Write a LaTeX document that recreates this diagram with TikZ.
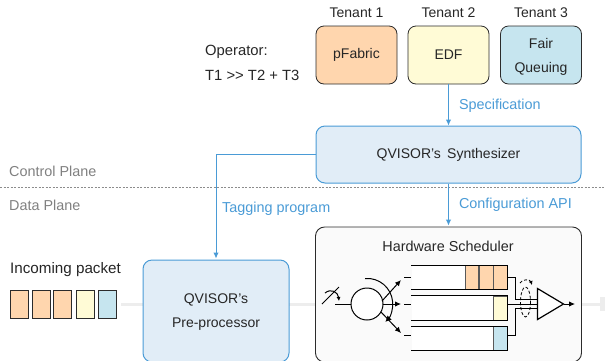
\documentclass[tikz,border=0pt]{standalone}
\usepackage{xcolor}
\usepackage{fontspec}
\setmainfont{Liberation Sans}
\usetikzlibrary{shapes,arrows,positioning,calc,arrows.meta}
\definecolor{linkblue}{HTML}{4A9BD6}
\definecolor{panelblue}{HTML}{E1EDF7}
\definecolor{softorange}{HTML}{FFD6AE}
\definecolor{softyellow}{HTML}{FFFBD6}
\definecolor{softblue}{HTML}{C6E5EF}
\definecolor{darkline}{HTML}{2B2B2B}
\tikzset{
    label text/.style={inner sep=0pt, text=black!85, font=\fontsize{14.4}{16}\selectfont},
    link text/.style={label text, text=linkblue},
    tenant box/.style={draw=darkline, line width=0.8pt, rounded corners=8pt, minimum width=81pt, minimum height=58pt, label text, font=\fontsize{14}{16}\selectfont, align=center},
    panel box/.style={draw=linkblue, fill=panelblue, line width=1pt, rounded corners=9pt, label text, font=\fontsize{14}{16}\selectfont, align=center},
    pkt cell/.style={draw=darkline, line width=0.7pt, minimum width=18pt, minimum height=28pt, inner sep=0pt},
    queue cell/.style={draw=black!65, line width=0.8pt, minimum height=24pt, inner sep=0pt},
    queue body/.style={fill=white, minimum width=96pt, minimum height=24pt, inner sep=0pt},
    link/.style={draw=linkblue, line width=1pt, -{Latex[length=6pt,width=5.5pt]}},
    sched/.style={draw=black, line width=1pt},
    sched arrow/.style={sched, -{Latex[length=6pt,width=5.5pt]}},
    traffic/.style={draw=black!7, line width=3pt}
}

\begin{document}
\begin{tikzpicture}[x=1pt,y=-1pt]
    \useasboundingbox (0,0) rectangle (605,360);
    \begin{scope}
    \clip (0,0) rectangle (605,360);

    % Traffic line behind the boxes
    \coordinate (trafficin) at (121,304);
    \coordinate (trafficout) at (605,304);
    \draw[traffic] (trafficin) -- (trafficout);
    \fill[black!7] (600,297) -- (605,297) -- (605,311) -- (600,311) -- cycle;

    % Tenants
    \node[tenant box, fill=softorange] (pfabric) at (356.5,55) {pFabric};
    \node[tenant box, fill=softyellow] (edf) at (448.5,55) {EDF};
    \node[tenant box, fill=softblue] (fair) at (541,55) {\rule{0pt}{14pt}Fair\\[8pt]Queuing};
    \node[label text, font=\fontsize{14}{16}\selectfont] (tenanta) at (356.5,13) {Tenant 1};
    \node[label text, font=\fontsize{14}{16}\selectfont] (tenantb) at (448.5,13) {Tenant 2};
    \node[label text, font=\fontsize{14}{16}\selectfont] (tenantc) at (541,13) {Tenant 3};
    \node[label text, font=\fontsize{14.8}{16}\selectfont, anchor=west] (operator) at (205,52) {Operator:};
    \node[label text, font=\fontsize{14.8}{16}\selectfont, anchor=west] (priority) at (205,75) {T1 {>}{>} T2 + T3};

    % Control plane
    \node[panel box, minimum width=265pt, minimum height=57pt] (synth) at (448.5,154.5) {QVISOR's\, Synthesizer};
    \draw[link] (edf) -- (synth) node[link text, midway, anchor=west, xshift=10pt, yshift=-1pt] (spec) {Specification};

    \coordinate (planeleft) at (0,187);
    \coordinate (planeright) at (605,187);
    \draw[black!45, line width=0.7pt, dash pattern=on 2pt off 1.5pt] (planeleft) -- (planeright);
    \node[label text, text=black!50, anchor=west] (control) at (9,171) {Control Plane};
    \node[label text, text=black!50, anchor=west] (data) at (9,205) {Data Plane};

    % Data plane
    \node[panel box, minimum width=146pt, minimum height=102pt] (prep) at (216,311) {\rule{0pt}{12.5pt}QVISOR's\\[8pt]Pre-processor};
    \node[draw=darkline, fill=black!2, line width=0.9pt, rounded corners=9pt, minimum width=266pt, minimum height=135pt] (hw) at (448.5,294.5) {};
    \node[label text] (hwtitle) at (448,246) {Hardware Scheduler};

    \draw[link, shorten >=1pt] (synth.west) -| (prep.north);
    \node[link text, anchor=west] (tag) at (222,209) {Tagging program};
    \draw[link, shorten >=1pt] (synth) -- (hw) node[link text, midway, anchor=west, xshift=10pt, yshift=0.5pt] (config) {Configuration API};

    % Incoming packet
    \node[label text, font=\fontsize{15.2}{16}\selectfont, anchor=west] (incoming) at (10,270) {Incoming packet};
    \node[pkt cell, fill=softorange] (pkta) at (19,304) {};
    \node[pkt cell, fill=softorange] (pktb) at (41,304) {};
    \node[pkt cell, fill=softorange] (pktc) at (62.5,304) {};
    \node[pkt cell, fill=softyellow] (pktd) at (85,304) {};
    \node[pkt cell, fill=softblue] (pkte) at (107,304) {};

    % Queues
    \node[queue body] (qa) at (459.5,277.5) {};
    \node[queue body] (qb) at (459.5,308) {};
    \node[queue body] (qc) at (459.5,338.5) {};
    \node[queue cell, fill=softorange, minimum width=13.5pt, anchor=north east] (qaz) at (qa.north east) {};
    \node[queue cell, fill=softorange, minimum width=13.5pt, anchor=east] (qay) at (qaz.west) {};
    \node[queue cell, fill=softorange, minimum width=13.5pt, anchor=east] (qax) at (qay.west) {};
    \node[queue cell, fill=softyellow, minimum width=14pt, anchor=north east] (qbz) at (qb.north east) {};
    \node[queue cell, fill=softblue, minimum width=14pt, anchor=north east] (qcz) at (qc.north east) {};
    \foreach \q in {qa,qb,qc} {
        \draw[line width=1.3pt, black] (\q.north west) -- (\q.north east) -- (\q.south east) -- (\q.south west);
    }

    % Demux on the left
    \node[draw=black, fill=white, circle, line width=1pt, minimum size=32pt, inner sep=0pt] (demux) at (367,304) {};
    \coordinate (dialin) at (335,304);
    \draw[sched] (dialin) -- (demux);
    \coordinate (needlea) at (322,304);
    \coordinate (needleb) at (339,287);
    \draw[sched] (needlea) -- (needleb);
    \draw[sched, -{Latex[length=4pt,width=4pt]}] (325,293) .. controls (331,288) and (338,292) .. (339,301);
    \draw[sched, -{Latex[length=6pt,width=6pt]}] (365,278.5) arc[start angle=-95, end angle=45, radius=25.5];

    \coordinate (taila) at (404,277.5);
    \coordinate (tailb) at (404,304);
    \coordinate (tailc) at (404,335);
    \draw[sched] (taila) -- (qa.west |- taila);
    \draw[sched] (tailb) -- (qb.west |- tailb);
    \draw[sched] (tailc) -- (qc.west |- tailc);
    \coordinate (outa) at (401,280);
    \coordinate (outb) at (401,304);
    \coordinate (outc) at (401,333);
    \draw[sched arrow] (382,301) -- (outa);
    \draw[sched arrow] (383,304) -- (outb);
    \draw[sched arrow] (381,312) -- (outc);

    % Mux on the right
    \coordinate (muxa) at (537.5,288.5);
    \coordinate (muxb) at (537.5,319.5);
    \coordinate (muxc) at (563.5,304);
    \coordinate (muxd) at (537.5,304);
    \coordinate (wirea) at (537.5,299);
    \coordinate (wirec) at (537.5,308.5);
    \draw[sched] (507.5,277.5) -- (515,277.5) -- (515,299) -- (wirea);
    \draw[sched] (507.5,304) -- (muxd);
    \draw[sched] (507.5,335) -- (515,335) -- (515,308.5) -- (wirec);
    \draw[sched, fill=white, line width=1.2pt] (muxa) -- (muxc) -- (muxb) -- cycle;
    \coordinate (muxout) at (575,304);
    \draw[sched arrow] (muxc) -- (muxout);
    \draw[sched, densely dashed, line width=0.8pt] (525.5,302) ellipse[x radius=5, y radius=15];
    \draw[sched, densely dashed, line width=0.8pt, -{Latex[length=4pt,width=4pt]}] (520,283) .. controls (522,279) and (530,279) .. (532,285);
    \end{scope}
\end{tikzpicture}
\end{document}
